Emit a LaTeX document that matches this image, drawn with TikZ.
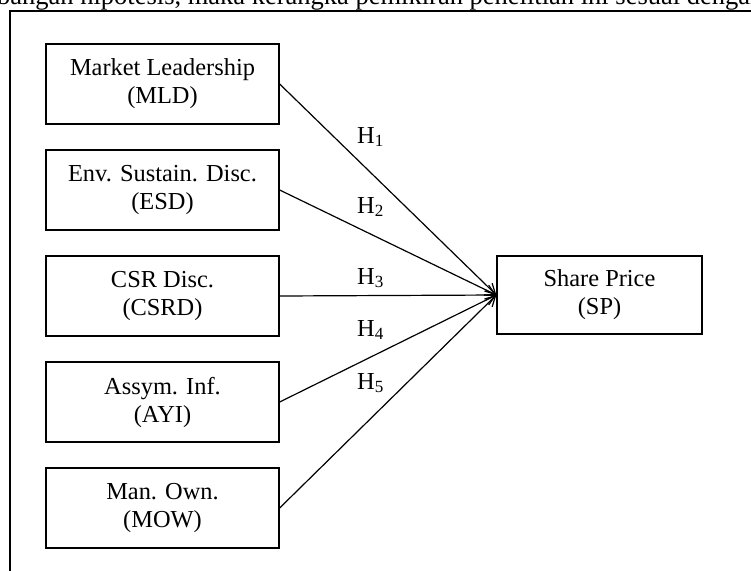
\documentclass[tikz,border=0pt]{standalone}
\usepackage{fontspec}
\setmainfont{Liberation Serif}
\usetikzlibrary{arrows.meta}

\begin{document}
\begin{tikzpicture}[x=1pt,y=-1pt,
  var/.style={draw=black, line width=1.3pt, minimum width=233pt, minimum height=80pt,
    align=center, inner sep=0pt, font=\fontsize{24.4}{28}\selectfont},
  hyp/.style={inner sep=0pt, anchor=base west, font=\fontsize{24.4}{28}\selectfont},
  link/.style={black, line width=1.2pt, -{Straight Barb[length=10pt,width=11pt]}}]
\useasboundingbox (0,0) rectangle (751,570);
\clip (0,0) rectangle (751,570);

\node[hyp, font=\fontsize{26.5}{28}\selectfont] (lead) at (-3,5) {bangan hipotesis, maka kerangka pemikiran penelitian ini sesuai dengan};
\draw[black, line width=2.2pt] (10,600) -- (10,11) -- (800,11);

\node[var] (mld) at (162.5,84) {Market Leadership\\(MLD)};
\node[var] (esd) at (162.5,190) {Env. Sustain. Disc.\\(ESD)};
\node[var] (csrd) at (162.5,296) {CSR Disc.\\(CSRD)};
\node[var] (ayi) at (162.5,402) {Assym. Inf.\\(AYI)};
\node[var] (mow) at (162.5,508) {Man. Own.\\(MOW)};

\node[var, minimum width=205pt, minimum height=78pt] (sp) at (599.5,295) {Share Price\\(SP)};

\draw[link] (mld.east) -- (sp.west);
\draw[link] (esd.east) -- (sp.west);
\draw[link] (csrd.east) -- (sp.west);
\draw[link] (ayi.east) -- (sp.west);
\draw[link] (mow.east) -- (sp.west);

\node[hyp] (h1) at (357,143) {H\textsubscript{1}};
\node[hyp] (h2) at (357,213) {H\textsubscript{2}};
\node[hyp] (h3) at (357,284) {H\textsubscript{3}};
\node[hyp] (h4) at (357,336) {H\textsubscript{4}};
\node[hyp] (h5) at (357,389) {H\textsubscript{5}};
\end{tikzpicture}
\end{document}
